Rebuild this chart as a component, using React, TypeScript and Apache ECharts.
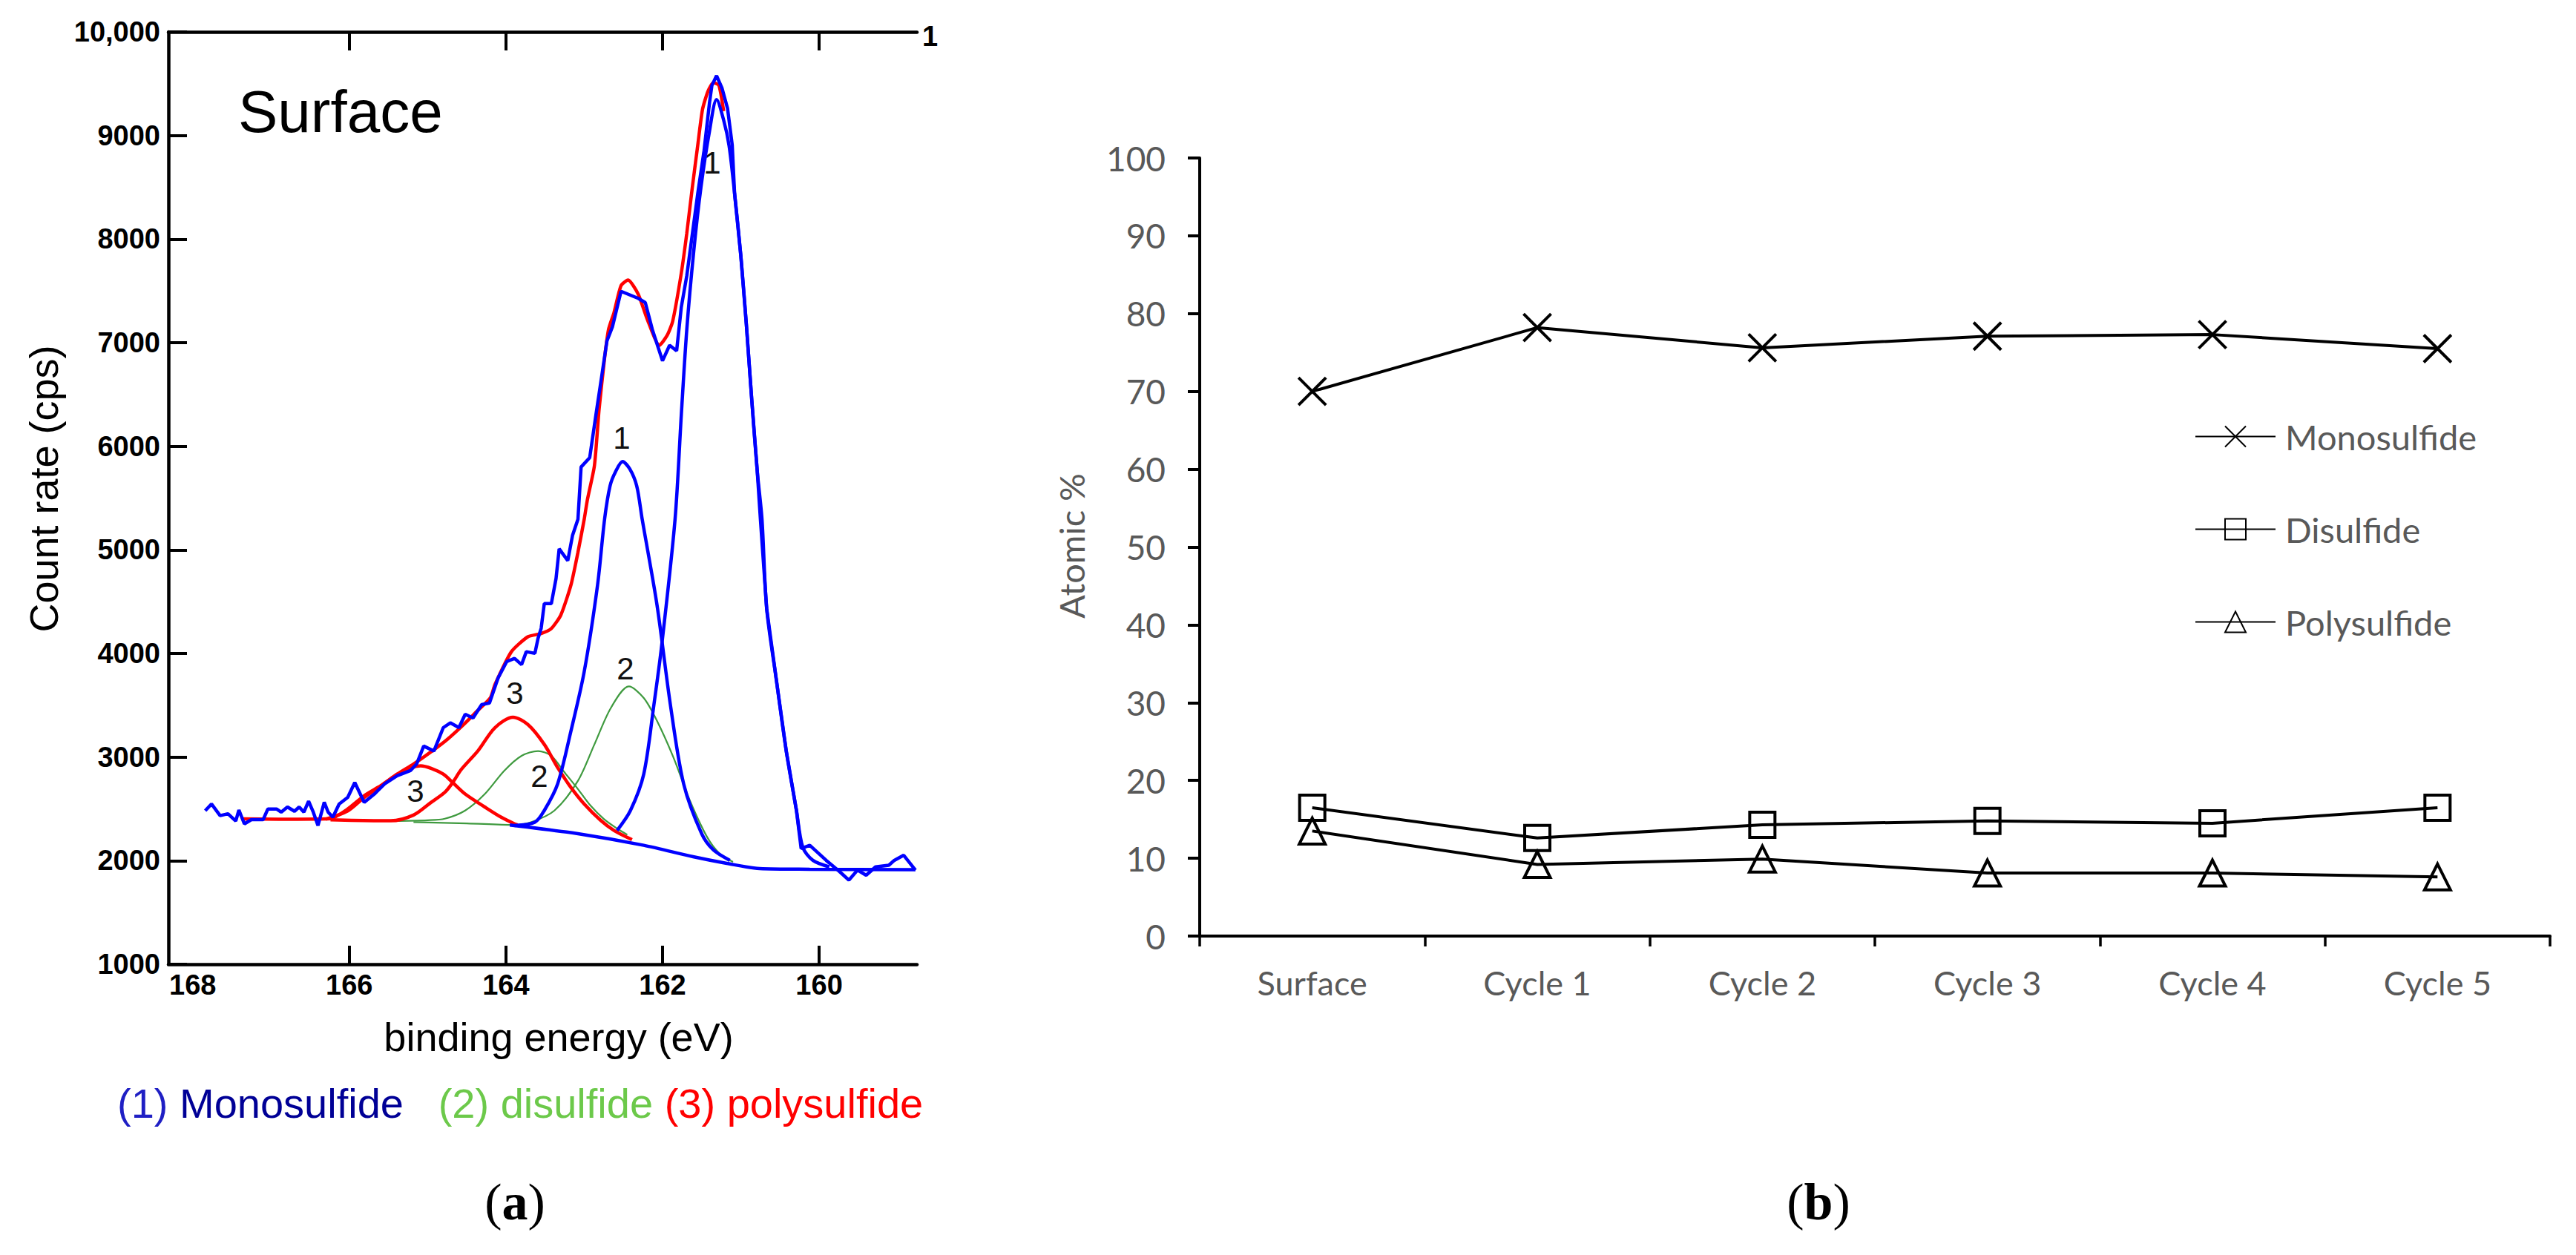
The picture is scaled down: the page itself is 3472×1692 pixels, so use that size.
import React, { useEffect, useRef } from "react";
import * as echarts from "echarts";

// ---- (a) XPS spectrum, binding energy (eV) vs count rate (cps) ----
const rawSpectrum: number[][] = [
  [167.84, 2482], [167.76, 2547], [167.65, 2435], [167.55, 2453], [167.45, 2382], [167.41, 2489],
  [167.34, 2355], [167.25, 2396], [167.1, 2396], [167.04, 2499], [166.93, 2499], [166.87, 2468],
  [166.79, 2518], [166.7, 2477], [166.64, 2518], [166.58, 2468], [166.52, 2575], [166.46, 2468],
  [166.4, 2339], [166.32, 2563], [166.27, 2468], [166.21, 2419], [166.13, 2547], [166.02, 2611],
  [165.93, 2754], [165.81, 2563], [165.68, 2643], [165.55, 2740], [165.39, 2819], [165.22, 2869],
  [165.14, 2933], [165.05, 3106], [164.92, 3058], [164.8, 3284], [164.71, 3330], [164.6, 3284],
  [164.52, 3413], [164.42, 3377], [164.31, 3506], [164.21, 3522], [164.1, 3764], [163.99, 3921],
  [163.89, 3953], [163.8, 3892], [163.74, 4017], [163.63, 4001], [163.59, 4145], [163.55, 4243],
  [163.51, 4481], [163.42, 4481], [163.36, 4723], [163.32, 5010], [163.21, 4896], [163.15, 5138],
  [163.08, 5296], [163.04, 5800], [162.93, 5890], [162.85, 6306], [162.78, 6660], [162.71, 7017],
  [162.64, 7153], [162.53, 7496], [162.31, 7428], [162.22, 7387], [162.13, 7126], [162.0, 6825],
  [161.91, 6975], [161.82, 6921], [161.76, 7345], [161.69, 7647], [161.55, 8441], [161.47, 8852],
  [161.4, 9318], [161.37, 9482], [161.31, 9577], [161.24, 9456], [161.17, 9262], [161.11, 8907],
  [161.08, 8441], [161.0, 7838], [160.93, 7180], [160.86, 6442], [160.79, 5756], [160.75, 5296],
  [160.67, 4433], [160.55, 3764], [160.42, 3058], [160.29, 2484], [160.23, 2117], [160.12, 2148],
  [159.91, 2003], [159.74, 1895], [159.62, 1812], [159.51, 1909], [159.4, 1859], [159.28, 1940],
  [159.11, 1956], [159.04, 2003], [158.92, 2052], [158.77, 1909],
];

const envelopeFit: number[][] = [
  [167.36, 2403], [166.9, 2400], [166.24, 2405], [166.02, 2499], [165.81, 2627], [165.6, 2723],
  [165.39, 2835], [165.18, 2933], [164.97, 3043], [164.75, 3170], [164.54, 3314], [164.37, 3442],
  [164.2, 3570], [164.14, 3700], [163.93, 4017], [163.72, 4161], [163.55, 4193], [163.42, 4241],
  [163.3, 4369], [163.17, 4659], [163.08, 4977], [163.0, 5296], [162.96, 5482], [162.87, 5812],
  [162.81, 6359], [162.74, 6852], [162.69, 7126], [162.62, 7290], [162.53, 7551], [162.44, 7605],
  [162.31, 7468], [162.2, 7236], [162.04, 6975], [161.94, 7072], [161.87, 7208], [161.76, 7673],
  [161.69, 8058], [161.62, 8497], [161.55, 8907], [161.49, 9250], [161.42, 9427], [161.35, 9510],
  [161.28, 9482], [161.22, 9235],
];

const poly3A: number[][] = [
  [166.3, 2400], [166.02, 2480], [165.81, 2610], [165.6, 2720], [165.39, 2830], [165.22, 2895],
  [165.09, 2915], [164.95, 2890], [164.8, 2835], [164.68, 2754], [164.52, 2643], [164.27, 2518],
  [164.06, 2419], [163.89, 2355], [163.85, 2345],
];

const poly3B: number[][] = [
  [166.24, 2395], [165.47, 2385], [165.18, 2440], [164.96, 2560], [164.78, 2660], [164.68, 2754],
  [164.57, 2880], [164.36, 3058], [164.14, 3284], [163.91, 3384], [163.72, 3314], [163.51, 3122],
  [163.34, 2899], [163.17, 2707], [163.0, 2547], [162.79, 2389], [162.62, 2292], [162.39, 2203],
];

const di2A: number[][] = [
  [165.45, 2382], [165.0, 2390], [164.78, 2405], [164.52, 2484], [164.27, 2643], [164.02, 2869],
  [163.8, 3012], [163.59, 3058], [163.42, 3012], [163.25, 2851], [163.08, 2691], [162.92, 2532],
  [162.75, 2403], [162.58, 2310], [162.45, 2250],
];

const di2B: number[][] = [
  [165.18, 2372], [164.5, 2360], [163.9, 2345], [163.68, 2371], [163.38, 2484], [163.08, 2771],
  [162.87, 3122], [162.66, 3474], [162.43, 3682], [162.24, 3570], [162.07, 3348], [161.86, 2995],
  [161.65, 2579], [161.43, 2227], [161.27, 2067], [161.1, 1988],
];

const mono1A: number[][] = [
  [163.89, 2339], [163.63, 2371], [163.51, 2484], [163.34, 2740], [163.17, 3250], [163.0, 3825],
  [162.83, 4659], [162.74, 5296], [162.67, 5618], [162.6, 5754], [162.51, 5852], [162.42, 5783],
  [162.33, 5618], [162.26, 5296], [162.07, 4465], [161.9, 3506], [161.73, 2740], [161.5, 2260],
  [161.35, 2103], [161.14, 2003],
];

const mono1B: number[][] = [
  [162.58, 2292], [162.41, 2484], [162.24, 2835], [162.11, 3506], [162.01, 4082], [161.84, 5296],
  [161.76, 6306], [161.69, 7129], [161.6, 7895], [161.51, 8497], [161.4, 9044], [161.31, 9346],
  [161.22, 9150], [161.15, 8900], [161.08, 8441], [161.0, 7838], [160.93, 7180], [160.86, 6442],
  [160.79, 5756], [160.73, 5296], [160.67, 4433], [160.55, 3764], [160.42, 3058], [160.29, 2484],
  [160.21, 2131], [160.08, 2003], [159.87, 1940],
];

const shirleyBg: number[][] = [
  [163.95, 2345], [163.08, 2260], [162.24, 2148], [161.61, 2038], [161.18, 1974], [160.76, 1924],
  [160.12, 1917], [158.77, 1912],
];

const energyTicks = [160, 162, 164, 166];
const energyLabels = [160, 162, 164, 166, 168];

// ---- (b) atomic % per cycle ----
const cycles = ["Surface", "Cycle 1", "Cycle 2", "Cycle 3", "Cycle 4", "Cycle 5"];
const monosulfide = [70.0, 78.2, 75.6, 77.1, 77.3, 75.5];
const disulfide = [16.5, 12.6, 14.3, 14.8, 14.5, 16.5];
const polysulfide = [13.5, 9.2, 9.9, 8.1, 8.1, 7.6];

const SANS = "Arial, 'Liberation Sans', sans-serif";
const SOFT = "Lato, 'Open Sans', sans-serif";
const GREY = "#595959";
const BLUE = "#0000ff";
const RED = "#ff0000";
const GREEN = "#3f9a3f";

const App = () => {
  const chartRef = useRef<HTMLDivElement>(null);

  useEffect(() => {
    document.body.style.margin = "0";
    const chart = echarts.init(chartRef.current, null, { renderer: "svg" });

    const fitLine = (name: string, data: number[][], color: string, width: number, z: number, smooth: number | boolean = 0.3) => ({
      name,
      type: "line",
      xAxisIndex: 0,
      yAxisIndex: 0,
      data,
      smooth,
      symbol: "none",
      z,
      lineStyle: { color, width },
      silent: true,
    });

    const cycleLine = (name: string, data: number[], symbol: string, size: number) => ({
      name,
      type: "line",
      xAxisIndex: 2,
      yAxisIndex: 1,
      data,
      symbol,
      symbolSize: size,
      showAllSymbol: true,
      lineStyle: { color: "#000", width: 4 },
      itemStyle: { color: "rgba(0,0,0,0)", borderColor: "#000", borderWidth: 4 },
      z: 5,
    });

    const axisLine = { show: true, onZero: false, lineStyle: { color: "#000", width: 4.5 } };

    const option = {
      animation: false,
      backgroundColor: "#fff",
      textStyle: { fontFamily: SANS },
      grid: [
        { left: 227, top: 43, width: 1009, height: 1257 },
        { left: 1617, top: 213, width: 1820, height: 1049 },
      ],
      xAxis: [
        {
          gridIndex: 0,
          type: "value",
          inverse: true,
          min: 158.75,
          max: 168.31,
          position: "bottom",
          axisLine,
          axisTick: { show: true, inside: true, length: 25, customValues: energyTicks, lineStyle: { color: "#000", width: 4 } },
          axisLabel: { customValues: energyLabels, fontSize: 38, fontWeight: "bold", color: "#000", margin: 9, fontFamily: SANS },
          splitLine: { show: false },
        },
        {
          gridIndex: 0,
          type: "value",
          inverse: true,
          min: 158.75,
          max: 168.31,
          position: "top",
          axisLine,
          axisTick: { show: true, inside: true, length: 25, customValues: energyTicks, lineStyle: { color: "#000", width: 4 } },
          axisLabel: { show: false },
          splitLine: { show: false },
        },
        {
          gridIndex: 1,
          type: "category",
          data: cycles,
          boundaryGap: true,
          axisLine: { show: true, lineStyle: { color: "#000", width: 4 } },
          axisTick: { show: true, length: 14, lineStyle: { color: "#000", width: 3.5 } },
          axisLabel: { fontSize: 45, color: GREY, margin: 40, fontFamily: SOFT },
        },
      ],
      yAxis: [
        {
          gridIndex: 0,
          type: "value",
          min: 1000,
          max: 10000,
          interval: 1000,
          axisLine,
          axisTick: { show: true, inside: true, length: 25, lineStyle: { color: "#000", width: 4 } },
          axisLabel: {
            fontSize: 38,
            fontWeight: "bold",
            color: "#000",
            margin: 11,
            fontFamily: SANS,
            showMinLabel: true,
            showMaxLabel: true,
            formatter: (v: number) => (v === 10000 ? "10,000" : String(v)),
          },
          splitLine: { show: false },
        },
        {
          gridIndex: 1,
          type: "value",
          min: 0,
          max: 100,
          interval: 10,
          axisLine: { show: true, lineStyle: { color: "#000", width: 4 } },
          axisTick: { show: true, length: 16, lineStyle: { color: "#000", width: 4 } },
          axisLabel: { fontSize: 46, color: GREY, margin: 46, fontFamily: SOFT },
          splitLine: { show: false },
        },
      ],
      legend: {
        data: ["Monosulfide", "Disulfide", "Polysulfide"],
        orient: "vertical",
        left: 2953,
        top: 560,
        itemWidth: 108,
        itemHeight: 35,
        itemGap: 78,
        selectedMode: false,
        textStyle: { fontSize: 47, color: GREY, fontFamily: SOFT, padding: [0, 0, 0, 8] },
      },
      series: [
        fitLine("di2A", di2A, GREEN, 2.2, 2),
        fitLine("di2B", di2B, GREEN, 2.2, 2),
        fitLine("poly3A", poly3A, RED, 4.5, 3),
        fitLine("poly3B", poly3B, RED, 4.5, 3),
        fitLine("envelope", envelopeFit, RED, 4.5, 3, 0.2),
        fitLine("mono1A", mono1A, BLUE, 4.5, 4),
        fitLine("mono1B", mono1B, BLUE, 4.5, 4),
        fitLine("background", shirleyBg, BLUE, 4.5, 4),
        fitLine("raw", rawSpectrum, BLUE, 4.5, 5, false),
        cycleLine("Monosulfide", monosulfide, "path://M0,0L10,10M10,0L0,10", 37),
        cycleLine("Disulfide", disulfide, "rect", 34),
        cycleLine("Polysulfide", polysulfide, "triangle", 35),
      ],
      graphic: [
        { type: "text", x: 321, y: 150, style: { text: "Surface", fontSize: 80, fontFamily: SANS, fill: "#000", verticalAlign: "middle" } },
        { type: "text", x: 1243, y: 49, style: { text: "1", fontSize: 38, fontWeight: "bold", fontFamily: SANS, fill: "#000", verticalAlign: "middle" } },
        { type: "text", x: 59, y: 659, rotation: Math.PI / 2, style: { text: "Count rate (cps)", fontSize: 54, fontFamily: SANS, fill: "#000", align: "center", verticalAlign: "middle" } },
        { type: "text", x: 753, y: 1398, style: { text: "binding energy (eV)", fontSize: 54, fontFamily: SANS, fill: "#000", align: "center", verticalAlign: "middle" } },
        {
          type: "text",
          x: 158,
          y: 1487,
          style: {
            text: "{a|(1)} {b|Monosulfide}   {g|(2) disulfide} {r|(3) polysulfide}",
            fontSize: 56,
            fontFamily: SANS,
            verticalAlign: "middle",
            rich: {
              a: { fill: "#1f1fc4", fontSize: 56, fontFamily: SANS },
              b: { fill: "#000096", fontSize: 56, fontFamily: SANS },
              g: { fill: "#6cc94a", fontSize: 56, fontFamily: SANS },
              r: { fill: "#ff0000", fontSize: 56, fontFamily: SANS },
            },
          },
        },
        { type: "text", x: 960, y: 219, style: { text: "1", fontSize: 42, fontFamily: SANS, fill: "#111", align: "center", verticalAlign: "middle" } },
        { type: "text", x: 838, y: 590, style: { text: "1", fontSize: 42, fontFamily: SANS, fill: "#111", align: "center", verticalAlign: "middle" } },
        { type: "text", x: 843, y: 901, style: { text: "2", fontSize: 42, fontFamily: SANS, fill: "#111", align: "center", verticalAlign: "middle" } },
        { type: "text", x: 727, y: 1046, style: { text: "2", fontSize: 42, fontFamily: SANS, fill: "#111", align: "center", verticalAlign: "middle" } },
        { type: "text", x: 694, y: 934, style: { text: "3", fontSize: 42, fontFamily: SANS, fill: "#111", align: "center", verticalAlign: "middle" } },
        { type: "text", x: 560, y: 1066, style: { text: "3", fontSize: 42, fontFamily: SANS, fill: "#111", align: "center", verticalAlign: "middle" } },
        { type: "text", x: 1444, y: 736, rotation: Math.PI / 2, style: { text: "Atomic %", fontSize: 47, fontFamily: SOFT, fill: GREY, align: "center", verticalAlign: "middle" } },
        {
          type: "text",
          x: 694,
          y: 1620,
          style: {
            text: "({b|a})",
            fontSize: 70,
            fontFamily: "'Liberation Serif', 'Times New Roman', serif",
            fill: "#000",
            align: "center",
            verticalAlign: "middle",
            rich: { b: { fontSize: 70, fontWeight: "bold", fontFamily: "'Liberation Serif', serif", fill: "#000" } },
          },
        },
        {
          type: "text",
          x: 2451,
          y: 1620,
          style: {
            text: "({b|b})",
            fontSize: 70,
            fontFamily: "'Liberation Serif', 'Times New Roman', serif",
            fill: "#000",
            align: "center",
            verticalAlign: "middle",
            rich: { b: { fontSize: 70, fontWeight: "bold", fontFamily: "'Liberation Serif', serif", fill: "#000" } },
          },
        },
      ],
    };

    chart.setOption(option);

    return () => {
      chart.dispose();
    };
  }, []);

  return <div ref={chartRef} style={{ width: 3472, height: 1692, background: "#fff" }} />;
};

export default App;
